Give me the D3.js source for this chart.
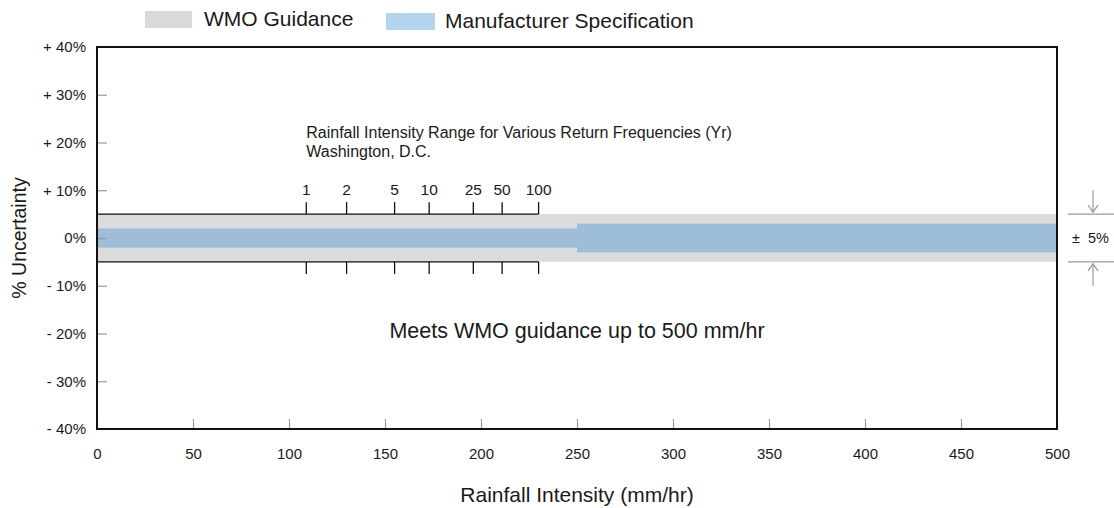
<!DOCTYPE html>
<html>
<head>
<meta charset="utf-8">
<script src="https://cdn.jsdelivr.net/npm/d3@7"></script>
<style>
  body { margin: 0; background: #fff; }
  text { font-family: "Liberation Sans", Arial, sans-serif; fill: #1a1a1a; }
</style>
</head>
<body>
<svg id="chart" width="1114" height="508"></svg>
<script>
// data
const xTicks = [0, 50, 100, 150, 200, 250, 300, 350, 400, 450, 500];
const yTicks = [-40, -30, -20, -10, 0, 10, 20, 30, 40];
const wmoBand = [{x0: 0, x1: 500, lo: -5, hi: 5}];
const specBands = [
  {x0: 0, x1: 250, lo: -2, hi: 2},
  {x0: 250, x1: 500, lo: -3, hi: 3}
];
const returnPeriods = ['1', '2', '5', '10', '25', '50', '100'];
const returnIntensity = [109, 130, 155, 173, 196, 211, 230];
const legendItems = ['WMO Guidance', 'Manufacturer Specification'];

const svg = d3.select('#chart');
const margin = {top: 47, right: 57, bottom: 79, left: 97};
const width = 1114 - margin.left - margin.right;
const height = 508 - margin.top - margin.bottom;

const x = d3.scaleLinear().domain([0, 500]).range([0, width]);
const y = d3.scaleLinear().domain([-40, 40]).range([height, 0]);

const g = svg.append('g')
    .attr('transform', `translate(${margin.left},${margin.top})`);

// bands
g.selectAll('.wmo')
  .data(wmoBand)
  .join('rect')
    .attr('class', 'wmo')
    .attr('x', d => x(d.x0))
    .attr('width', d => x(d.x1) - x(d.x0))
    .attr('y', d => y(d.hi))
    .attr('height', d => y(d.lo) - y(d.hi))
    .attr('fill', '#dcdcdc');

g.selectAll('.spec')
  .data(specBands)
  .join('rect')
    .attr('class', 'spec')
    .attr('x', d => x(d.x0))
    .attr('width', d => x(d.x1) - x(d.x0))
    .attr('y', d => y(d.hi))
    .attr('height', d => y(d.lo) - y(d.hi))
    .attr('fill', '#9dbdd8');

// axes (ticks drawn inward, grey)
const xAxis = g.append('g')
    .attr('transform', `translate(0,${height})`)
    .call(d3.axisBottom(x).tickValues(xTicks).tickSize(-10).tickPadding(19));
xAxis.select('.domain').remove();
xAxis.selectAll('line').attr('stroke', '#999').attr('stroke-width', 1.2);
xAxis.selectAll('text').style('font-size', '15px');

const yFmt = d => d > 0 ? `+ ${d}%` : d < 0 ? `- ${-d}%` : '0%';
const yAxis = g.append('g')
    .call(d3.axisLeft(y).tickValues(yTicks).tickSize(-10).tickPadding(11).tickFormat(yFmt));
yAxis.select('.domain').remove();
yAxis.selectAll('line').attr('stroke', '#999').attr('stroke-width', 1.2);
yAxis.selectAll('text').style('font-size', '15px');
yAxis.selectAll('.tick').filter(d => d === 40 || d === -40).select('line').remove();

// frame
g.append('rect')
    .attr('width', width)
    .attr('height', height)
    .attr('fill', 'none')
    .attr('stroke', '#111')
    .attr('stroke-width', 2);

// return frequency scale
const rMax = d3.max(returnIntensity);
[5, -5].forEach(v => {
  g.append('line')
      .attr('x1', x(0)).attr('x2', x(rMax))
      .attr('y1', y(v)).attr('y2', y(v))
      .attr('stroke', '#111').attr('stroke-width', 1.3);
  g.selectAll(null)
    .data(returnIntensity)
    .join('line')
      .attr('x1', d => x(d)).attr('x2', d => x(d))
      .attr('y1', y(v)).attr('y2', y(v) + (v > 0 ? -12 : 12))
      .attr('stroke', '#111').attr('stroke-width', 1.3);
});
g.selectAll('.rlabel')
  .data(returnPeriods)
  .join('text')
    .attr('class', 'rlabel')
    .attr('x', (d, i) => x(returnIntensity[i]))
    .attr('y', y(5) - 19)
    .attr('text-anchor', 'middle')
    .style('font-size', '15.5px')
    .text(d => d);

g.append('text')
    .attr('x', x(returnIntensity[0]))
    .attr('y', 138 - margin.top)
    .style('font-size', '16px')
    .text('Rainfall Intensity Range for Various Return Frequencies (Yr)');
g.append('text')
    .attr('x', x(returnIntensity[0]))
    .attr('y', 157 - margin.top)
    .style('font-size', '16px')
    .text('Washington, D.C.');

g.append('text')
    .attr('x', x(250))
    .attr('y', y(-21))
    .attr('text-anchor', 'middle')
    .style('font-size', '21.5px')
    .text('Meets WMO guidance up to 500 mm/hr');

// axis titles
svg.append('text')
    .attr('x', margin.left + x(250))
    .attr('y', 502)
    .attr('text-anchor', 'middle')
    .style('font-size', '21px')
    .text('Rainfall Intensity (mm/hr)');
svg.append('text')
    .attr('transform', `translate(26,${margin.top + y(0)}) rotate(-90)`)
    .attr('text-anchor', 'middle')
    .style('font-size', '19.5px')
    .text('% Uncertainty');

// ± 5% annotation on the right
const ann = svg.append('g').attr('transform', `translate(${margin.left + width},${margin.top})`);
[5, -5].forEach(v => {
  ann.append('line')
      .attr('x1', 11).attr('x2', 57)
      .attr('y1', y(v)).attr('y2', y(v))
      .attr('stroke', '#999').attr('stroke-width', 1.2);
  const dir = v > 0 ? 1 : -1;
  const yy = y(v);
  ann.append('line')
      .attr('x1', 36).attr('x2', 36)
      .attr('y1', yy - dir * 24).attr('y2', yy - dir * 2)
      .attr('stroke', '#999').attr('stroke-width', 1.2);
  ann.append('path')
      .attr('d', `M31,${yy - dir * 9} L36,${yy - dir * 2} L41,${yy - dir * 9}`)
      .attr('fill', 'none')
      .attr('stroke', '#999').attr('stroke-width', 1.2);
});
ann.append('text')
    .attr('x', 15)
    .attr('y', y(0) + 5)
    .style('font-size', '14.5px')
    .style('white-space', 'pre')
    .text('\u00b1  5%');

// legend
const legendX = [145, 386];
const legendY = [11, 13];
const legendFill = ['#d9d9d9', '#b4d4ee'];
const legend = svg.selectAll('.legend')
  .data(legendItems)
  .join('g')
    .attr('class', 'legend')
    .attr('transform', (d, i) => `translate(${legendX[i]},${legendY[i]})`);
legend.append('rect')
    .attr('width', (d, i) => i === 0 ? 47 : 49)
    .attr('height', 17)
    .attr('fill', (d, i) => legendFill[i]);
legend.append('text')
    .attr('x', 59)
    .attr('y', 15)
    .style('font-size', '21px')
    .text(d => d);
</script>
</body>
</html>
